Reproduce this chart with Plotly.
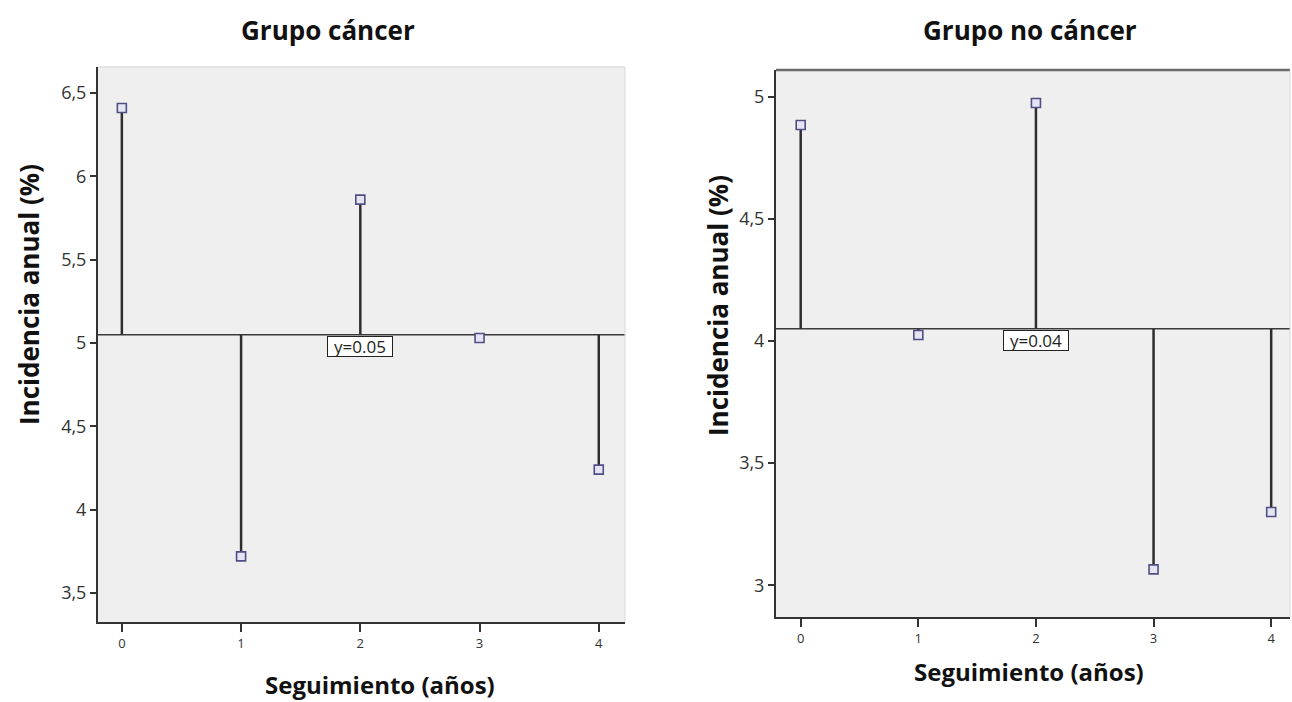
import plotly.graph_objects as go

# Data
years = [0, 1, 2, 3, 4]
cancer_vals = [6.41, 3.72, 5.86, 5.03, 4.24]
cancer_ref = 5.05
cancer_ref_label = "y=0.05"
nocancer_vals = [4.885, 4.025, 4.975, 3.065, 3.30]
nocancer_ref = 4.05
nocancer_ref_label = "y=0.04"
titles = ["Grupo cáncer", "Grupo no cáncer"]
xtitle = "Seguimiento (años)"
ytitle = "Incidencia anual (%)"
cancer_yticks = [3.5, 4, 4.5, 5, 5.5, 6, 6.5]
nocancer_yticks = [3, 3.5, 4, 4.5, 5]

W, H = 1292, 702
FONT = "Open Sans"
STEM = "#2e2e2e"

fig = go.Figure()

def stems(xs, vals, base):
    sx, sy = [], []
    for x, v in zip(xs, vals):
        sx += [x, x, None]
        sy += [base, v, None]
    return sx, sy

panels = [
    dict(vals=cancer_vals, ref=cancer_ref, label=cancer_ref_label, xa="x", ya="y",
         xdom=[98 / W, 625 / W], ydom=[(H - 622) / H, (H - 67) / H],
         yr=[3.326, 6.656], xr=[-0.2, 4.22], yt=cancer_yticks, topdark=False),
    dict(vals=nocancer_vals, ref=nocancer_ref, label=nocancer_ref_label, xa="x2", ya="y2",
         xdom=[776 / W, 1290 / W], ydom=[(H - 617) / H, (H - 70) / H],
         yr=[2.87, 5.11], xr=[-0.21, 4.16], yt=nocancer_yticks, topdark=True),
]

shapes = []
annotations = []
for i, p in enumerate(panels):
    sx, sy = stems(years, p["vals"], p["ref"])
    fig.add_trace(go.Scatter(x=sx, y=sy, mode="lines", xaxis=p["xa"], yaxis=p["ya"],
                             line=dict(color=STEM, width=2.5), hoverinfo="skip", showlegend=False))
    fig.add_trace(go.Scatter(x=years, y=p["vals"], mode="markers", xaxis=p["xa"], yaxis=p["ya"],
                             marker=dict(symbol="square", size=9, color="#e4e4f2",
                                         line=dict(color="#4f4f85", width=1.6)),
                             showlegend=False))
    xref_dom = p["xa"] + " domain"
    yref_dom = p["ya"] + " domain"
    # reference line
    shapes.append(dict(type="line", xref=xref_dom, yref=p["ya"], x0=0, x1=1,
                       y0=p["ref"], y1=p["ref"], line=dict(color="#3a3a3a", width=1.5), layer="below"))
    # frame: top and right
    shapes.append(dict(type="line", xref=xref_dom, yref=yref_dom, x0=0, x1=1, y0=1, y1=1,
                       line=dict(color="#6a6a6a" if p["topdark"] else "#d0d0d0",
                                 width=2.5 if p["topdark"] else 1)))
    shapes.append(dict(type="line", xref=xref_dom, yref=yref_dom, x0=1, x1=1, y0=0, y1=1,
                       line=dict(color="#d8d8d8", width=1)))
    annotations.append(dict(x=2, y=p["ref"], xref=p["xa"], yref=p["ya"], text=p["label"],
                            showarrow=False, yanchor="top", xanchor="center", yshift=-1,
                            width=64, height=19, align="center", valign="middle",
                            bgcolor="white", bordercolor="#222", borderwidth=1, borderpad=0,
                            font=dict(family=FONT, size=17, color="#222")))

def txt(x, y, text, size, angle=0):
    return dict(x=x / W, y=(H - y) / H, xref="paper", yref="paper", text="<b>" + text + "</b>",
                showarrow=False, xanchor="center", yanchor="middle", textangle=angle,
                font=dict(family=FONT, size=size, color="#111"))

annotations += [
    txt(328, 30, titles[0], 26),
    txt(1030, 30, titles[1], 26),
    txt(380, 684, xtitle, 24),
    txt(1029, 671, xtitle, 24),
    txt(29, 295, ytitle, 26, -90),
    txt(718, 306, ytitle, 26, -90),
]

axis_common = dict(showgrid=False, zeroline=False, showline=True, linecolor="#333",
                   linewidth=2, ticks="outside", tickcolor="#333", mirror=False)

layout = dict(
    width=W, height=H, margin=dict(l=0, r=0, t=0, b=0),
    paper_bgcolor="white", plot_bgcolor="#efefef", separators=",.",
    showlegend=False, shapes=shapes, annotations=annotations,
    font=dict(family=FONT, color="#333"),
)
for i, p in enumerate(panels):
    sfx = "" if i == 0 else "2"
    layout["xaxis" + sfx] = dict(axis_common, domain=p["xdom"], range=p["xr"], anchor="y" + sfx,
                                 tickvals=years, ticklen=8, tickwidth=1.5,
                                 tickfont=dict(family=FONT, size=13, color="#333"))
    layout["yaxis" + sfx] = dict(axis_common, domain=p["ydom"], range=p["yr"], anchor="x" + sfx,
                                 tickvals=p["yt"], ticklen=6, tickwidth=1.5,
                                 tickfont=dict(family=FONT, size=18, color="#333"))

fig.update_layout(**layout)
fig.write_html("out.html")
